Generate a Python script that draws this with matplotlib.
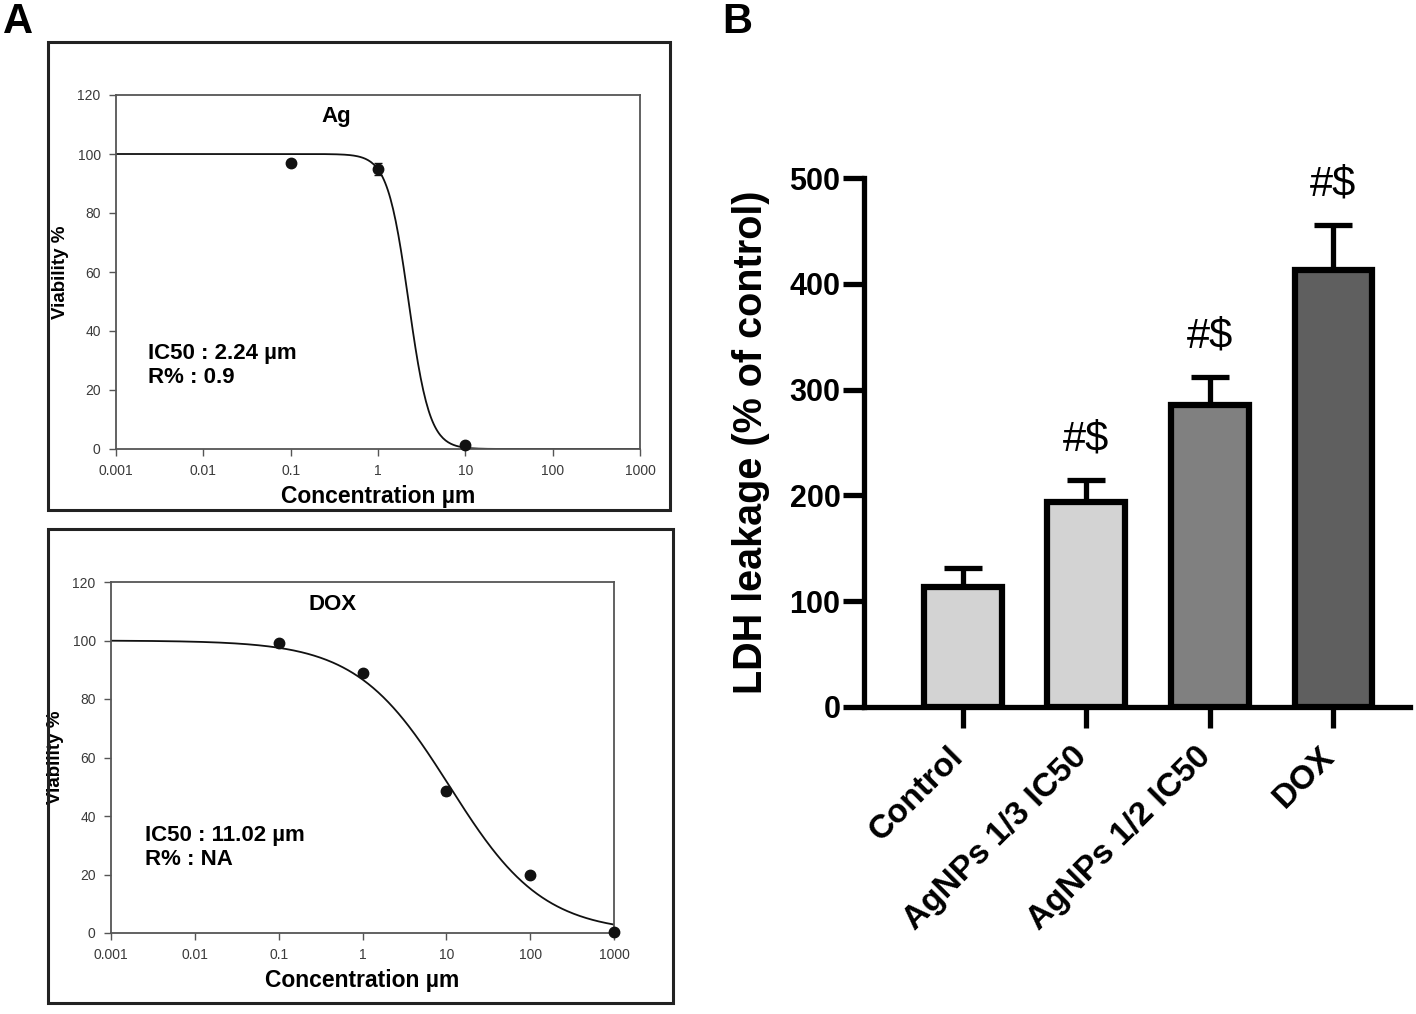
import numpy as np
import matplotlib
matplotlib.use("Agg")
import matplotlib.pyplot as plt
import matplotlib.transforms as mtransforms
from matplotlib.patches import Rectangle

plt.rcParams['font.family'] = ['Liberation Sans', 'DejaVu Sans']

# ---- Panel A data ----
ag_conc = [0.1, 1, 10]
ag_via = [97, 95, 1.5]
ag_err = [1.0, 2.0, 0.5]
ag_ic50 = 2.24
ag_hill = 3.6

dox_conc = [0.1, 1, 10, 100, 1000]
dox_via = [99, 89, 48.5, 20, 0.5]
dox_err = [1.0, 0.8, 1.2, 1.0, 0.5]
dox_ic50 = 11.02
dox_hill = 0.78

conc_ticks = [0.001, 0.01, 0.1, 1, 10, 100, 1000]
conc_ticklabels = ['0.001', '0.01', '0.1', '1', '10', '100', '1000']
via_ticks = [0, 20, 40, 60, 80, 100, 120]

# ---- Panel B data ----
groups = ['Control', 'AgNPs 1/3 IC50', 'AgNPs 1/2 IC50', 'DOX']
ldh_mean = [113, 194, 285, 413]
ldh_sem = [18, 21, 27, 43]
ldh_marks = ['', '#$', '#$', '#$']
bar_colors = ['#d3d3d3', '#d3d3d3', '#808080', '#5f5f5f']

W, H = 1416, 1014
fig = plt.figure(figsize=(W / 100, H / 100), dpi=100)

def fx(px):
    return px / W

def fy(py):
    return 1 - py / H

# frames around panel A subplots
for (x0, y0, x1, y1) in [(48, 42, 670, 510), (48, 529, 673, 1003)]:
    fig.patches.append(Rectangle((fx(x0), fy(y1)), fx(x1) - fx(x0), fy(y0) - fy(y1),
                                 transform=fig.transFigure, fill=False,
                                 edgecolor='#222222', linewidth=2.2))

gray = '#555555'

def viability_panel(rect, conc, via, err, ic50, hill, title, t_xy, txt, txt_xy):
    ax = fig.add_axes(rect)
    ax.set_xscale('log')
    ax.set_xlim(0.001, 1000)
    ax.set_ylim(0, 120)
    xs = np.logspace(-3, 3, 400)
    ax.plot(xs, 100.0 / (1.0 + (xs / ic50) ** hill), color='#111111', lw=1.3, zorder=2)
    ax.errorbar(conc, via, yerr=err, fmt='o', color='#111111', ms=7.5,
                capsize=3, elinewidth=1, zorder=3, clip_on=False)
    ax.set_xticks(conc_ticks)
    ax.set_xticklabels(conc_ticklabels)
    ax.xaxis.set_minor_locator(matplotlib.ticker.NullLocator())
    ax.set_yticks(via_ticks)
    for s in ax.spines.values():
        s.set_color(gray)
        s.set_linewidth(1.3)
    ax.tick_params(axis='both', direction='out', length=5, width=1, color=gray,
                   labelsize=10, labelcolor='#3a3a3a', pad=6)
    ax.set_xlabel('Concentration µm', fontsize=16.5, fontweight='bold', labelpad=5)
    ax.set_ylabel('Viability %', fontsize=13.5, fontweight='bold', labelpad=6)
    ax.text(t_xy[0], t_xy[1], title, transform=ax.transAxes, fontsize=16,
            fontweight='bold', ha='center', va='center')
    ax.text(txt_xy[0], txt_xy[1], txt, transform=ax.transAxes, fontsize=16,
            fontweight='bold', ha='left', va='top', linespacing=1.2)
    return ax

viability_panel([fx(116), fy(449), fx(640) - fx(116), fy(95) - fy(449)],
                ag_conc, ag_via, ag_err, ag_ic50, ag_hill, 'Ag', (0.42, 0.94),
                'IC50 : 2.24 µm\nR% : 0.9', (0.061, 0.30))
viability_panel([fx(111), fy(933), fx(614) - fx(111), fy(582) - fy(933)],
                dox_conc, dox_via, dox_err, dox_ic50, dox_hill, 'DOX', (0.44, 0.935),
                'IC50 : 11.02 µm\nR% : NA', (0.068, 0.308))

# ---- Panel B ----
axb = fig.add_axes([fx(864), fy(707), fx(1410) - fx(864), fy(178) - fy(707)])
xpos = np.arange(len(groups))
axb.bar(xpos, ldh_mean, width=0.63, color=bar_colors, edgecolor='black',
        linewidth=4.5, zorder=3)
axb.errorbar(xpos, ldh_mean, yerr=[[0] * len(ldh_sem), ldh_sem], fmt='none',
             ecolor='black', elinewidth=3.8, capsize=14, capthick=3.8, zorder=2)
for x, m, s, t in zip(xpos, ldh_mean, ldh_sem, ldh_marks):
    if t:
        axb.text(x, m + s + 38, t, ha='center', va='center', fontsize=30)
axb.set_xlim(-0.8, 3.62)
axb.set_ylim(0, 500)
axb.set_yticks([0, 100, 200, 300, 400, 500])
axb.set_xticks(xpos)
axb.set_xticklabels([''] * len(groups))
# rotated category labels, anchored at their top-right corner below each tick
lab_tr = axb.get_xaxis_transform() + mtransforms.ScaledTranslation(
    -15 / 100, -34 / 100, fig.dpi_scale_trans)
for x, g in zip(xpos, groups):
    axb.text(x, 0, g, transform=lab_tr, rotation=45, rotation_mode='anchor',
             ha='right', va='top', fontsize=24, fontweight='bold')
for lab in axb.get_yticklabels():
    lab.set_fontweight('bold')
axb.tick_params(axis='both', direction='out', length=15, width=3.8)
axb.tick_params(axis='y', labelsize=22, pad=2)
for side in ['top', 'right']:
    axb.spines[side].set_visible(False)
for side in ['left', 'bottom']:
    axb.spines[side].set_linewidth(3.8)
axb.set_ylabel('LDH leakage (% of control)', fontsize=28.5, fontweight='bold', labelpad=14)

fig.text(fx(3), fy(33), 'A', fontsize=30, fontweight='bold', ha='left', va='baseline')
fig.text(fx(722), fy(33), 'B', fontsize=30, fontweight='bold', ha='left', va='baseline')

fig.savefig('out.png', dpi=100)
